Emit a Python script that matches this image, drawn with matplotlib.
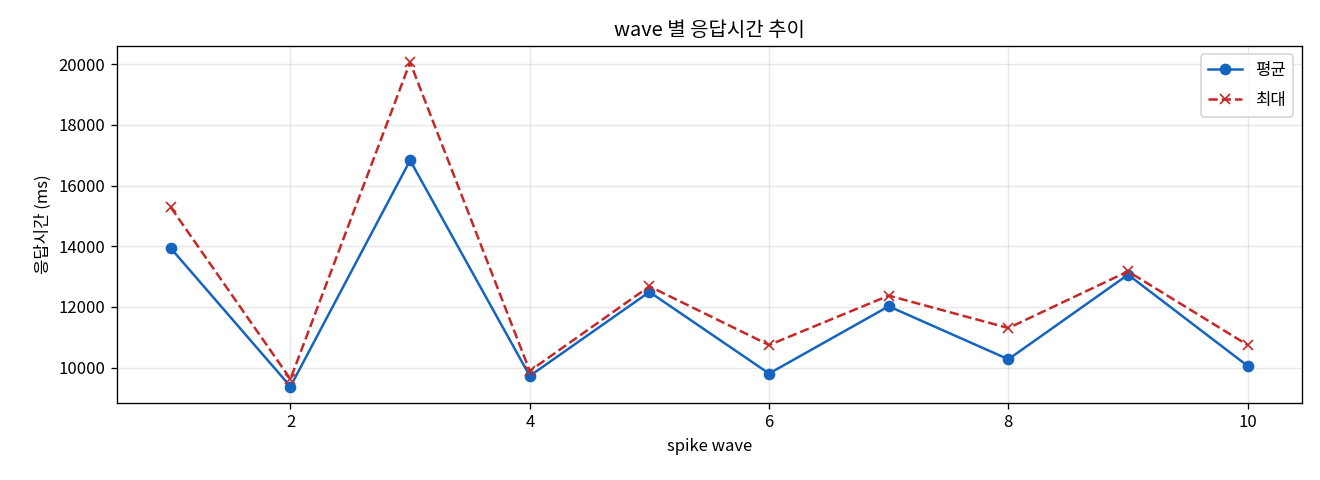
import matplotlib
matplotlib.use("Agg")
import matplotlib.pyplot as plt

plt.rcParams['font.family'] = ['Noto Sans CJK KR', 'DejaVu Sans']
plt.rcParams['axes.unicode_minus'] = False

waves = [1, 2, 3, 4, 5, 6, 7, 8, 9, 10]
mean_ms = [13934, 9375, 16832, 9724, 12493, 9803, 12020, 10273, 13063, 10053]
max_ms = [15283, 9620, 20066, 9888, 12678, 10743, 12372, 11303, 13171, 10743]

fig, ax = plt.subplots(figsize=(11, 4), dpi=120)
ax.plot(waves, mean_ms, marker='o', linestyle='-', color='#1565C0', label='평균')
ax.plot(waves, max_ms, marker='x', linestyle='--', color='#C62828', label='최대')
ax.set_title('wave 별 응답시간 추이')
ax.set_xlabel('spike wave')
ax.set_ylabel('응답시간 (ms)')
ax.grid(True, alpha=0.3)
ax.legend(loc='upper right', labelspacing=0.8, borderpad=0.45)
fig.subplots_adjust(left=0.0886, right=0.986, top=0.904, bottom=0.161)
fig.savefig('out.png')
